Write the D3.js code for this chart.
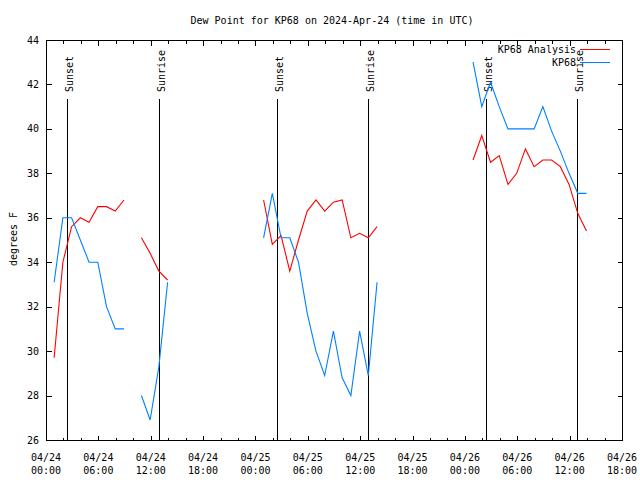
<!DOCTYPE html>
<html>
<head>
<meta charset="utf-8">
<script src="https://cdn.jsdelivr.net/npm/d3@7"></script>
<style>
  body { margin: 0; background: #fff; }
  svg { display: block; }
  text { font-family: "DejaVu Sans Mono", monospace; font-size: 10px; fill: #000; }
</style>
</head>
<body>
<svg id="chart" width="640" height="480"></svg>
<script>
// ---- data ----
const title = "Dew Point for KP68 on 2024-Apr-24 (time in UTC)";
const yTitle = "degrees F";
const seriesNames = ["KP68 Analysis", "KP68"];

const obsTimes = [
  "2024-04-24T00:56Z","2024-04-24T01:56Z","2024-04-24T02:56Z","2024-04-24T03:56Z","2024-04-24T04:56Z",
  "2024-04-24T05:56Z","2024-04-24T06:56Z","2024-04-24T07:56Z","2024-04-24T08:56Z",
  "2024-04-24T10:56Z","2024-04-24T11:56Z","2024-04-24T12:56Z","2024-04-24T13:56Z",
  "2024-04-25T00:56Z","2024-04-25T01:56Z","2024-04-25T02:56Z","2024-04-25T03:56Z","2024-04-25T04:56Z",
  "2024-04-25T05:56Z","2024-04-25T06:56Z","2024-04-25T07:56Z","2024-04-25T08:56Z","2024-04-25T09:56Z",
  "2024-04-25T10:56Z","2024-04-25T11:56Z","2024-04-25T12:56Z","2024-04-25T13:56Z",
  "2024-04-26T00:56Z","2024-04-26T01:56Z","2024-04-26T02:56Z","2024-04-26T03:56Z","2024-04-26T04:56Z",
  "2024-04-26T05:56Z","2024-04-26T06:56Z","2024-04-26T07:56Z","2024-04-26T08:56Z","2024-04-26T09:56Z",
  "2024-04-26T10:56Z","2024-04-26T11:56Z","2024-04-26T12:56Z","2024-04-26T13:56Z"
];
const analysis = [
  29.7, 34.0, 35.6, 36.0, 35.8, 36.5, 36.5, 36.3, 36.8,
  35.1, 34.4, 33.6, 33.2,
  36.8, 34.8, 35.2, 33.6, 35.0, 36.3, 36.8, 36.3, 36.7, 36.8, 35.1, 35.3, 35.1, 35.6,
  38.6, 39.7, 38.5, 38.8, 37.5, 38.0, 39.1, 38.3, 38.6, 38.6, 38.3, 37.5, 36.2, 35.4
];
const observed = [
  33.1, 36.0, 36.0, 35.0, 34.0, 34.0, 32.0, 31.0, 31.0,
  28.0, 26.9, 29.3, 33.1,
  35.1, 37.1, 35.1, 35.1, 34.0, 31.7, 30.0, 28.9, 30.9, 28.8, 28.0, 30.9, 28.9, 33.1,
  43.0, 41.0, 42.1, 41.0, 40.0, 40.0, 40.0, 40.0, 41.0, 39.9, 39.0, 38.0, 37.1, 37.1
];
const sunEvents = ["Sunset","Sunrise","Sunset","Sunrise","Sunset","Sunrise"];
const sunTimes = [
  "2024-04-24T02:26Z","2024-04-24T12:57Z","2024-04-25T02:26Z",
  "2024-04-25T12:56Z","2024-04-26T02:27Z","2024-04-26T12:53Z"
];
const xDomain = ["2024-04-24T00:00Z", "2024-04-26T18:00Z"];
const yDomain = [26, 44];
const yTicks = [26, 28, 30, 32, 34, 36, 38, 40, 42, 44];

// ---- layout ----
const L = 46, R = 622, T = 40, B = 440;
const colors = ["#ff0000", "#0080ff"];

const svg = d3.select("#chart");
const x = d3.scaleUtc().domain(xDomain.map(d => new Date(d))).range([L, R]);
const y = d3.scaleLinear().domain(yDomain).range([B, T]);

const times = obsTimes.map(d => new Date(d));

// frame
svg.append("rect").attr("x", L + 0.5).attr("y", T + 0.5)
  .attr("width", R - L).attr("height", B - T)
  .attr("fill", "none").attr("stroke", "#000").attr("stroke-width", 1)
  .attr("shape-rendering", "crispEdges");

// x ticks (every 2 h, labels every 6 h)
const xt = x.ticks(d3.utcHour.every(2));
const gx = svg.append("g").attr("shape-rendering", "crispEdges");
xt.forEach(t => {
  const major = t.getUTCHours() % 6 === 0;
  const len = major ? 5 : 3;
  const px = Math.round(x(t)) + 0.5;
  gx.append("line").attr("x1", px).attr("x2", px).attr("y1", B + 0.5).attr("y2", B + 0.5 - len).attr("stroke", "#000");
  gx.append("line").attr("x1", px).attr("x2", px).attr("y1", T + 0.5).attr("y2", T + 0.5 + len).attr("stroke", "#000");
  if (major) {
    const txt = svg.append("text").attr("text-anchor", "middle").attr("x", x(t));
    txt.append("tspan").attr("x", x(t)).attr("y", 461).text(d3.utcFormat("%m/%d")(t));
    txt.append("tspan").attr("x", x(t)).attr("y", 474).text(d3.utcFormat("%H:%M")(t));
  }
});

// y ticks
const gy = svg.append("g").attr("shape-rendering", "crispEdges");
yTicks.forEach(v => {
  const py = Math.round(y(v)) + 0.5;
  gy.append("line").attr("x1", L + 0.5).attr("x2", L + 0.5 + 5).attr("y1", py).attr("y2", py).attr("stroke", "#000");
  gy.append("line").attr("x1", R + 0.5).attr("x2", R + 0.5 - 5).attr("y1", py).attr("y2", py).attr("stroke", "#000");
  svg.append("text").attr("text-anchor", "end").attr("x", 39).attr("y", y(v)).attr("dy", "0.35em").text(v);
});

// titles
svg.append("text").attr("text-anchor", "middle").attr("x", 332).attr("y", 24).text(title);
svg.append("text").attr("text-anchor", "middle")
  .attr("transform", "translate(13,239) rotate(-90)").attr("dy", "0.35em").text(yTitle);

// sunrise / sunset
sunTimes.forEach((s, i) => {
  const px = Math.round(x(new Date(s))) + 0.5;
  svg.append("line").attr("x1", px).attr("x2", px).attr("y1", 99).attr("y2", B)
    .attr("stroke", "#000").attr("shape-rendering", "crispEdges");
  svg.append("text").attr("text-anchor", "start")
    .attr("transform", `translate(${px + 1.5},92) rotate(-90)`).attr("dy", "0.35em").text(sunEvents[i]);
});

// data lines (break where gap > 1.5 h)
function drawSeries(vals, color) {
  const pts = times.map((t, i) => ({ t, v: vals[i], i }));
  const segs = [];
  let cur = [];
  pts.forEach((p, i) => {
    if (i > 0 && (p.t - pts[i - 1].t) > 1.5 * 3600 * 1000) { segs.push(cur); cur = []; }
    cur.push(p);
  });
  segs.push(cur);
  const line = d3.line().x(d => x(d.t)).y(d => y(d.v));
  segs.forEach(sg => {
    svg.append("path").attr("d", line(sg)).attr("fill", "none")
      .attr("stroke", color).attr("stroke-width", 1.1);
  });
}
drawSeries(analysis, colors[0]);
drawSeries(observed, colors[1]);

// legend
[0, 1].forEach(i => {
  const ly = 49 + i * 13;
  svg.append("text").attr("text-anchor", "end").attr("x", 576).attr("y", ly).attr("dy", "0.35em").text(seriesNames[i]);
  svg.append("line").attr("x1", 580).attr("x2", 610).attr("y1", ly + 0.5).attr("y2", ly + 0.5)
    .attr("stroke", colors[i]).attr("shape-rendering", "crispEdges");
});
</script>
</body>
</html>
